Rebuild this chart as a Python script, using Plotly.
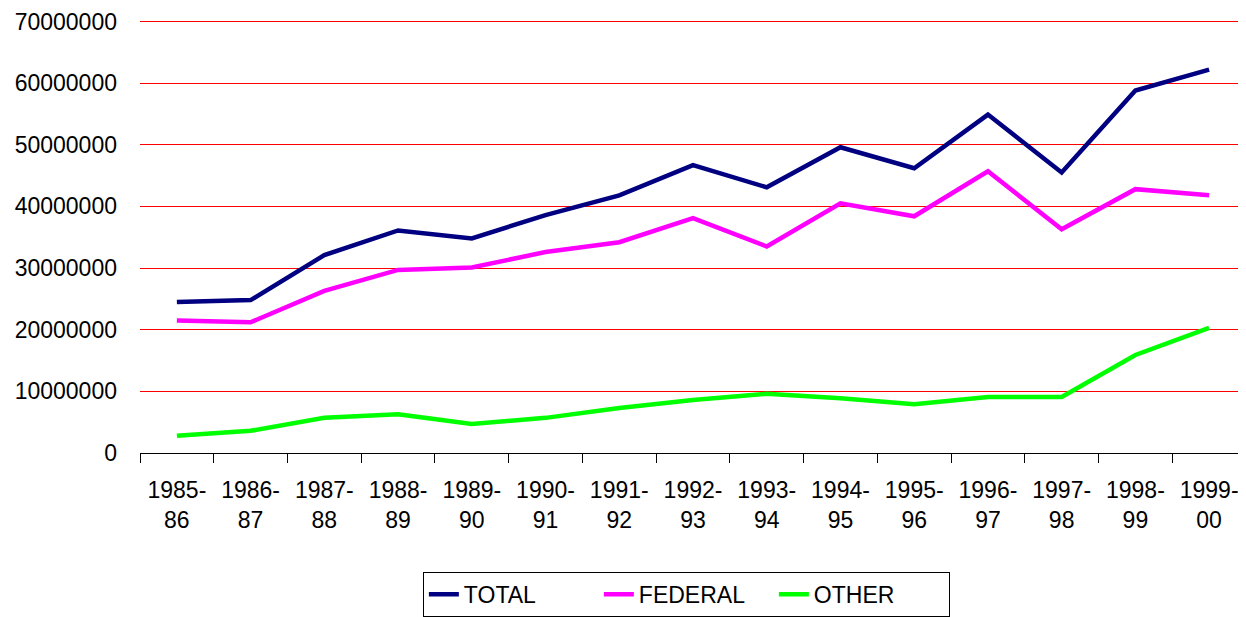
import plotly.graph_objects as go

categories = ["1985-<br>86", "1986-<br>87", "1987-<br>88", "1988-<br>89", "1989-<br>90",
              "1990-<br>91", "1991-<br>92", "1992-<br>93", "1993-<br>94", "1994-<br>95",
              "1995-<br>96", "1996-<br>97", "1997-<br>98", "1998-<br>99", "1999-<br>00"]

total = [24.5e6, 24.8e6, 32.1e6, 36.1e6, 34.8e6, 38.6e6, 41.8e6, 46.7e6, 43.1e6,
         49.6e6, 46.2e6, 54.9e6, 45.5e6, 58.8e6, 62.2e6]
federal = [21.5e6, 21.2e6, 26.3e6, 29.7e6, 30.1e6, 32.6e6, 34.2e6, 38.1e6, 33.5e6,
           40.5e6, 38.4e6, 45.7e6, 36.3e6, 42.8e6, 41.8e6]
other = [2.8e6, 3.6e6, 5.7e6, 6.3e6, 4.7e6, 5.7e6, 7.3e6, 8.6e6, 9.6e6,
         8.9e6, 7.9e6, 9.1e6, 9.1e6, 15.9e6, 20.3e6]

y_ticks = [0, 10000000, 20000000, 30000000, 40000000, 50000000, 60000000, 70000000]
y_ticktext = ["0", "10000000", "20000000", "30000000", "40000000", "50000000", "60000000", "70000000"]

series = [("TOTAL", total, "#000080"), ("FEDERAL", federal, "#FF00FF"), ("OTHER", other, "#00FF00")]

fig = go.Figure()
for name, vals, color in series:
    fig.add_trace(go.Scatter(x=categories, y=vals, name=name, mode="lines",
                             line=dict(color=color, width=4.5)))

font_family = "Liberation Sans, Arial, sans-serif"
# page body has an 8px margin, so the figure is sized/offset to compensate
fig.update_layout(
    width=1238, height=609,
    margin=dict(l=132, r=0, t=11.5, b=164, autoexpand=False),
    paper_bgcolor="white", plot_bgcolor="white",
    font=dict(family=font_family, size=23, color="black"),
    showlegend=True,
    legend=dict(orientation="h", x=0.494, xanchor="center", y=-0.2745, yanchor="top",
                bordercolor="black", borderwidth=1, bgcolor="white",
                font=dict(size=23, color="black"), itemwidth=30, tracegroupgap=0,
                entrywidth=130, entrywidthmode="pixels"),
    xaxis=dict(type="category", range=[-0.5, 14.5], showgrid=False, automargin=False,
               showline=True, linecolor="black", linewidth=1,
               ticks="outside", tickson="boundaries", ticklen=9, tickcolor="black",
               tickwidth=1, ticklabelstandoff=16,
               tickfont=dict(size=23, color="black"), tickangle=0),
    yaxis=dict(range=[0, 70243000], tickvals=y_ticks, ticktext=y_ticktext, automargin=False,
               showgrid=True, gridcolor="#FF0000", gridwidth=1,
               zeroline=False, showline=False, ticks="",
               ticklabelstandoff=22, tickfont=dict(size=23, color="black")),
)

fig.write_html("out.html")
